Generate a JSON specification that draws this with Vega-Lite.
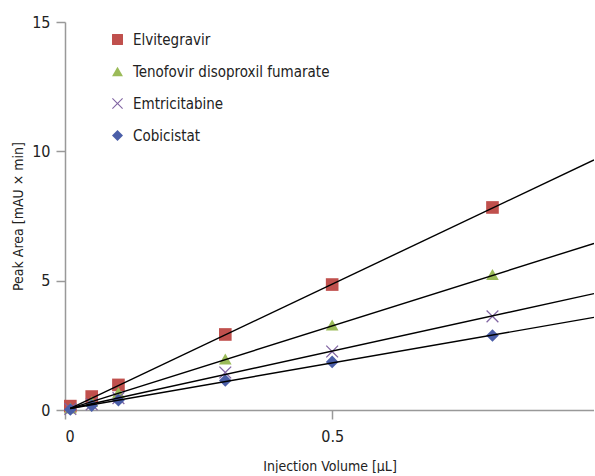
{
  "$schema": "https://vega.github.io/schema/vega-lite/v6.json",
  "width": 529,
  "height": 388,
  "padding": {"left": 11, "top": 14, "right": 0, "bottom": 0},
  "background": "white",
  "config": {
    "font": "DejaVu Sans Condensed, Roboto, sans-serif",
    "view": {"stroke": null},
    "axis": {
      "domainColor": "#999999",
      "tickColor": "#999999",
      "domainWidth": 1.5,
      "tickWidth": 1.5,
      "tickSize": 9,
      "grid": false,
      "labelFontSize": 16,
      "titleFontSize": 14,
      "labelColor": "#222222",
      "titleColor": "#222222",
      "titleFontWeight": "normal",
      "labelFont": "DejaVu Sans Condensed, sans-serif",
      "titleFont": "DejaVu Sans Condensed, sans-serif"
    },
    "legend": {
      "labelFont": "DejaVu Sans Condensed, sans-serif",
      "labelFontSize": 15,
      "labelColor": "#222222",
      "labelLimit": 0
    }
  },
  "datasets": {
    "points": [
      {"series": "Elvitegravir", "volume": 0.01, "area": 0.15},
      {"series": "Elvitegravir", "volume": 0.05, "area": 0.52},
      {"series": "Elvitegravir", "volume": 0.1, "area": 0.97},
      {"series": "Elvitegravir", "volume": 0.3, "area": 2.92},
      {"series": "Elvitegravir", "volume": 0.5, "area": 4.85},
      {"series": "Elvitegravir", "volume": 0.8, "area": 7.83},
      {"series": "Tenofovir disoproxil fumarate", "volume": 0.01, "area": 0.08},
      {"series": "Tenofovir disoproxil fumarate", "volume": 0.05, "area": 0.33},
      {"series": "Tenofovir disoproxil fumarate", "volume": 0.1, "area": 0.68},
      {"series": "Tenofovir disoproxil fumarate", "volume": 0.3, "area": 1.97},
      {"series": "Tenofovir disoproxil fumarate", "volume": 0.5, "area": 3.29},
      {"series": "Tenofovir disoproxil fumarate", "volume": 0.8, "area": 5.24},
      {"series": "Emtricitabine", "volume": 0.01, "area": 0.04},
      {"series": "Emtricitabine", "volume": 0.05, "area": 0.22},
      {"series": "Emtricitabine", "volume": 0.1, "area": 0.46},
      {"series": "Emtricitabine", "volume": 0.3, "area": 1.45},
      {"series": "Emtricitabine", "volume": 0.5, "area": 2.26},
      {"series": "Emtricitabine", "volume": 0.8, "area": 3.62},
      {"series": "Cobicistat", "volume": 0.01, "area": 0.02},
      {"series": "Cobicistat", "volume": 0.05, "area": 0.17},
      {"series": "Cobicistat", "volume": 0.1, "area": 0.38},
      {"series": "Cobicistat", "volume": 0.3, "area": 1.14},
      {"series": "Cobicistat", "volume": 0.5, "area": 1.86},
      {"series": "Cobicistat", "volume": 0.8, "area": 2.88}
    ],
    "fits": [
      {"series": "Elvitegravir", "volume": 0.01, "area": 0.06},
      {"series": "Elvitegravir", "volume": 0.99, "area": 9.67},
      {"series": "Tenofovir disoproxil fumarate", "volume": 0.01, "area": 0.06},
      {"series": "Tenofovir disoproxil fumarate", "volume": 0.99, "area": 6.44},
      {"series": "Emtricitabine", "volume": 0.01, "area": 0.06},
      {"series": "Emtricitabine", "volume": 0.99, "area": 4.5},
      {"series": "Cobicistat", "volume": 0.01, "area": 0.06},
      {"series": "Cobicistat", "volume": 0.99, "area": 3.58}
    ]
  },
  "encoding": {
    "x": {
      "field": "volume", "type": "quantitative",
      "scale": {"domain": [0, 0.99], "nice": false, "zero": true},
      "axis": {"values": [0, 0.5], "format": "~g", "title": "Injection Volume [µL]", "labelPadding": 9, "titlePadding": 15}
    },
    "y": {
      "field": "area", "type": "quantitative",
      "scale": {"domain": [0, 15], "nice": false},
      "axis": {"values": [0, 5, 10, 15], "title": "Peak Area [mAU × min]", "labelPadding": 6, "titlePadding": 6}
    }
  },
  "layer": [
    {
      "data": {"name": "points"},
      "mark": {"type": "point", "filled": true, "opacity": 1, "size": 160},
      "encoding": {
        "color": {
          "field": "series", "type": "nominal",
          "scale": {
            "domain": ["Elvitegravir", "Tenofovir disoproxil fumarate", "Emtricitabine", "Cobicistat"],
            "range": ["#C0504D", "#9BBB59", "#8064A2", "#4A5EA8"]
          },
          "legend": {
            "title": null, "orient": "none", "legendX": 45, "legendY": 10,
            "rowPadding": 16, "labelOffset": 8, "symbolSize": 120
          }
        },
        "shape": {
          "field": "series", "type": "nominal",
          "scale": {
            "domain": ["Elvitegravir", "Tenofovir disoproxil fumarate", "Emtricitabine", "Cobicistat"],
            "range": ["square", "triangle-up", "M-1,-0.86L-0.86,-1L0,-0.14L0.86,-1L1,-0.86L0.14,0L1,0.86L0.86,1L0,0.14L-0.86,1L-1,0.86L-0.14,0Z", "diamond"]
          }
        }
      }
    },
    {
      "data": {"name": "fits"},
      "mark": {"type": "line", "color": "black", "strokeWidth": 1.4, "clip": true},
      "encoding": {"detail": {"field": "series", "type": "nominal"}}
    }
  ]
}
